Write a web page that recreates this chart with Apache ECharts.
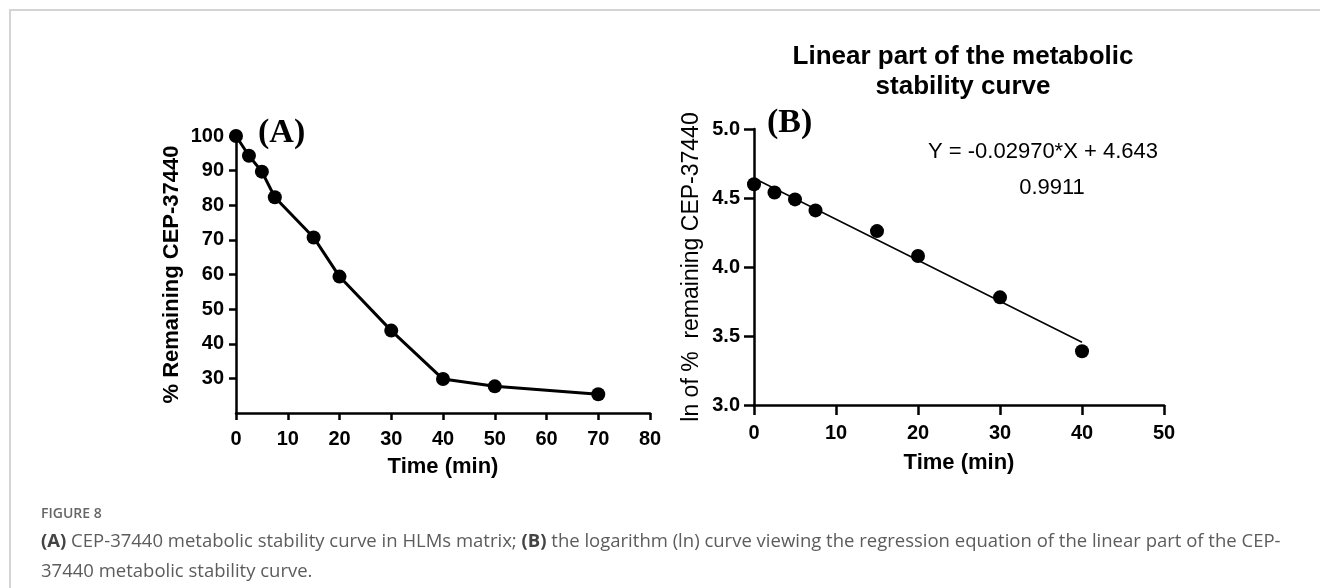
<!DOCTYPE html>
<html>
<head>
<meta charset="utf-8">
<script src="https://cdn.jsdelivr.net/npm/echarts@6/dist/echarts.min.js"></script>
<style>
	html, body { margin: 0; padding: 0; background: #fff; }
	#wrap { position: relative; width: 1320px; height: 588px; overflow: hidden; }
	#frame { position: absolute; left: 9px; top: 9px; width: 1400px; height: 700px;
		border-top: 2px solid #d4d4d4; border-left: 2px solid #d4d4d4; }
	#chart { position: absolute; left: 0; top: 0; width: 1320px; height: 588px; }
	#caption { position: absolute; left: 41px; top: 501px; font-family: 'Open Sans', sans-serif;
		color: #5c5c5c; font-size: 18.5px; line-height: 30px; white-space: nowrap; }
	#caption .fig { font-size: 14px; font-weight: 600; line-height: 24px; color: #666; }
	#caption b { font-weight: 700; color: #444; }
</style>
</head>
<body>
<div id="wrap">
	<div id="frame"></div>
	<div id="chart"></div>
	<div id="caption">
		<div class="fig">FIGURE 8</div>
		<div><b>(A)</b> CEP-37440 metabolic stability curve in HLMs matrix; <b>(B)</b> the logarithm (ln) curve viewing the regression equation of the linear part of the CEP-<br>37440 metabolic stability curve.</div>
	</div>
</div>
<script>
// panel A: % remaining over time
var timeA = [0, 2.5, 5, 7.5, 15, 20, 30, 40, 50, 70];
var remainA = [100, 94.3, 89.7, 82.3, 70.7, 59.4, 43.8, 29.8, 27.7, 25.4];
var ticksAy = [30, 40, 50, 60, 70, 80, 90, 100];

// panel B: ln of % remaining, linear part
var timeB = [0, 2.5, 5, 7.5, 15, 20, 30, 40];
var lnB = [4.60, 4.54, 4.49, 4.41, 4.26, 4.08, 3.78, 3.39];
var fitX = [0, 40];
var fitY = [4.643, 3.455];

var eqText = 'Y = -0.02970*X + 4.643';
var r2Text = '0.9911';

var FONT = "'Liberation Sans', Arial, sans-serif";

function pairs(xs, ys) {
	var out = [], i;
	for (i = 0; i < xs.length; i++) {
		out.push([xs[i], ys[i]]);
	}
	return out;
}

function axisBase(tickLen) {
	return {
		axisLine: { onZero: false, lineStyle: { color: '#000', width: 2.5 } },
		axisTick: { length: tickLen, lineStyle: { color: '#000', width: 2.5 } },
		splitLine: { show: false },
		nameTextStyle: { color: '#000', fontFamily: FONT, fontSize: 22, fontWeight: 'bold' }
	};
}

function xAxis(idx, max, gap, margin, tickLen, name) {
	var a = axisBase(tickLen);
	a.type = 'value';
	a.gridIndex = idx;
	a.min = 0;
	a.max = max;
	a.interval = 10;
	a.name = name;
	a.nameLocation = 'middle';
	a.nameGap = gap;
	a.axisLabel = { color: '#000', fontFamily: FONT, fontSize: 20, fontWeight: 'bold', margin: margin };
	return a;
}

var chart = echarts.init(document.getElementById('chart'), null, { renderer: 'canvas' });

var yA = axisBase(7);
yA.type = 'value';
yA.gridIndex = 0;
yA.min = 20;
yA.max = 100;
yA.interval = 10;
yA.name = '% Remaining CEP-37440';
yA.nameLocation = 'middle';
yA.nameGap = 53;
yA.axisTick.customValues = ticksAy;
yA.axisLabel = {
	customValues: ticksAy,
	color: '#000', fontFamily: FONT, fontSize: 20, fontWeight: 'bold', margin: 12,
	formatter: function (v) { return v < 30 ? '' : String(v); }
};

var yB = axisBase(10);
yB.type = 'value';
yB.gridIndex = 1;
yB.min = 3;
yB.max = 5;
yB.interval = 0.5;
yB.name = 'ln of %  remaining CEP-37440';
yB.nameLocation = 'middle';
yB.nameGap = 51;
yB.nameTextStyle.fontWeight = 'normal';
yB.nameTextStyle.fontSize = 23;
yB.axisLabel = {
	color: '#000', fontFamily: FONT, fontSize: 20, fontWeight: 'bold', margin: 14,
	formatter: function (v) { return v.toFixed(1); }
};

var option = {
	animation: false,
	title: {
		text: 'Linear part of the metabolic\nstability curve',
		left: 958,
		top: 37,
		textAlign: 'center',
		textStyle: { fontFamily: FONT, fontSize: 26, fontWeight: 'bold', color: '#000', lineHeight: 30 }
	},
	grid: [
		{ left: 236, top: 136, width: 414, height: 277, outerBoundsMode: 'none' },
		{ left: 754, top: 129, width: 410, height: 276, outerBoundsMode: 'none' }
	],
	xAxis: [
		xAxis(0, 80, 43, 16, 7, 'Time (min)'),
		xAxis(1, 50, 47, 18, 10, 'Time (min)')
	],
	yAxis: [yA, yB],
	graphic: [
		{ type: 'text', left: 258, top: 116,
			style: { text: '(A)', fontFamily: "'Liberation Serif', 'Times New Roman', serif", fontSize: 34, fontWeight: 'bold', fill: '#000' } },
		{ type: 'text', left: 767, top: 106,
			style: { text: '(B)', fontFamily: "'Liberation Serif', 'Times New Roman', serif", fontSize: 34, fontWeight: 'bold', fill: '#000' } },
		{ type: 'text', x: 1043, y: 152,
			style: { text: eqText, fontFamily: FONT, fontSize: 22, fill: '#000', align: 'center', verticalAlign: 'middle' } },
		{ type: 'text', x: 1052, y: 188,
			style: { text: r2Text, fontFamily: FONT, fontSize: 22, fill: '#000', align: 'center', verticalAlign: 'middle' } }
	],
	series: [
		{
			type: 'line',
			xAxisIndex: 0,
			yAxisIndex: 0,
			data: pairs(timeA, remainA),
			symbol: 'circle',
			symbolSize: 14,
			lineStyle: { color: '#000', width: 3 },
			itemStyle: { color: '#000', opacity: 1 }
		},
		{
			type: 'line',
			xAxisIndex: 1,
			yAxisIndex: 1,
			data: pairs(fitX, fitY),
			symbol: 'none',
			lineStyle: { color: '#000', width: 1.5 }
		},
		{
			type: 'scatter',
			xAxisIndex: 1,
			yAxisIndex: 1,
			data: pairs(timeB, lnB),
			symbol: 'circle',
			symbolSize: 14,
			itemStyle: { color: '#000', opacity: 1 }
		}
	]
};

chart.setOption(option);
</script>
</body>
</html>
